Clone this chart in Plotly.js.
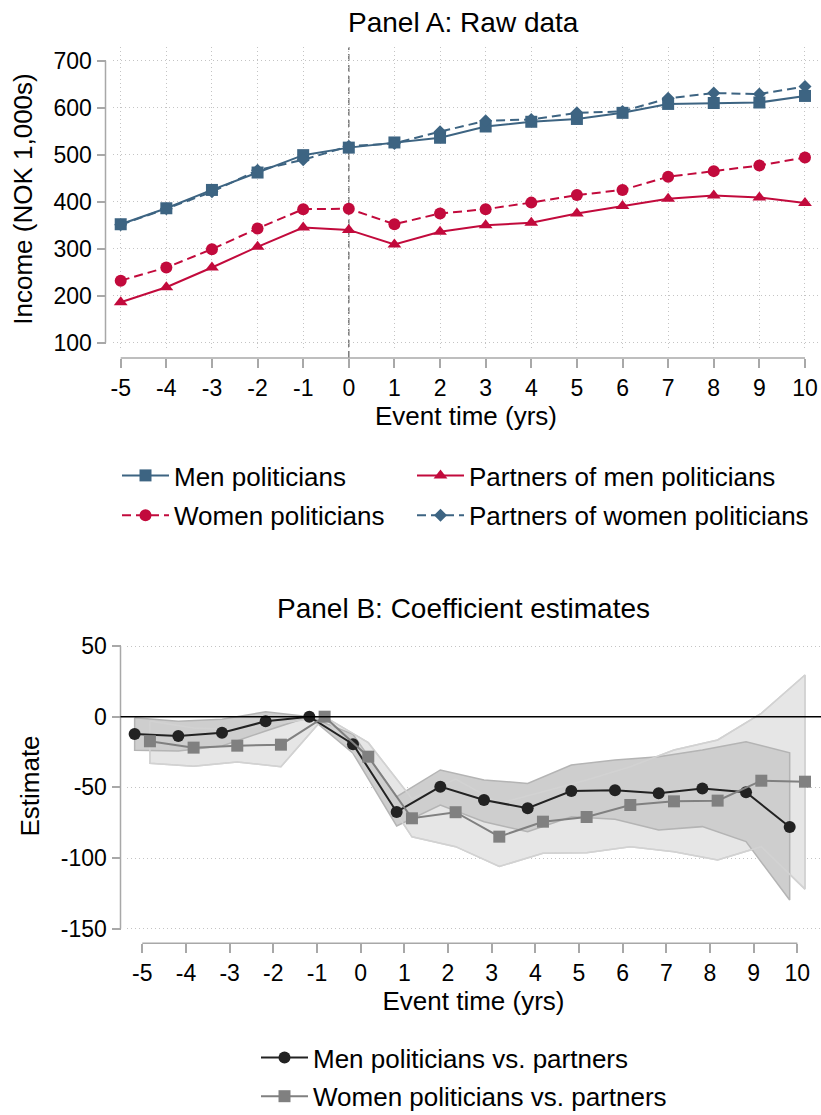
<!DOCTYPE html>
<html><head><meta charset="utf-8">
<script src="https://cdn.plot.ly/plotly-3.0.1.min.js"></script>
<style>html,body{margin:0;padding:0;background:#fff}#chart{width:821px;height:1115px}</style>
</head><body><div id="chart"></div>
<script>
// ---------- data ----------
const eventTime = [-5,-4,-3,-2,-1,0,1,2,3,4,5,6,7,8,9,10];

// Panel A: raw income (NOK 1,000s)
const menPoliticians          = [352,386,425,462,499,515,526,536,560,570,576,589,608,610,611,625];
const womenPoliticians        = [232,260,299,343,384,385,352,375,384,398,414,425,453,465,477,494];
const partnersOfMenPol        = [186,218,260,304,345,340,309,336,350,355,375,391,406,413,409,397];
const partnersOfWomenPol      = [351,385,421,467,489,518,524,549,572,575,589,592,620,631,629,645];
const yTicksA = [100,200,300,400,500,600,700];

// Panel B: coefficient estimates and confidence bands
const menEst   = [-12.2,-13.7,-11.3,-3.3,0,-19.5,-67.4,-49.5,-58.9,-64.8,-52.6,-52.1,-54.2,-50.9,-53.5,-78.0];
const menLo    = [-23.7,-24.2,-20.8,-10.1,0,-25.9,-77.3,-62.5,-74.3,-81.4,-70.8,-72.6,-80.2,-77.8,-88.4,-129.7];
const menHi    = [-0.7,-3.2,-1.8,3.5,0,-12.5,-56.6,-37.7,-44.8,-47.2,-34.2,-30.6,-28.3,-23.6,-17.7,-25.5];
const womenEst = [-17.4,-21.9,-20.5,-19.8,0,-28.3,-71.9,-67.6,-84.9,-74.3,-71.0,-62.5,-59.9,-59.4,-45.3,-46.0];
const womenLo  = [-33,-35,-32,-35.4,0,-38,-85,-92,-106,-96.7,-96.2,-92,-95.5,-101.4,-92,-122];
const womenHi  = [-3,-8,-9,-4.5,0,-18.4,-58,-44.1,-61.3,-53.1,-44.8,-35.4,-23.6,-16.5,2.4,29.5];
const yTicksB = [-150,-100,-50,0,50];

// ---------- helpers / styles ----------
const W = 821, H = 1115;
const px = p => p / W;
const py = p => 1 - p / H;
const FONT = 'Liberation Sans, Arial, Helvetica, sans-serif';
const blue = '#3d6482', red = '#c20a3c';
const axisColor = '#a8a8a8', gridColor = '#c4c4c4';
const OFF = 0.175;
const xMen = eventTime.map(t => t - OFF);
const xWomen = eventTime.map(t => t + OFF);
const band = (xs, lo, hi) => ({x: xs.concat(xs.slice().reverse()).concat([xs[0]]),
                               y: hi.concat(lo.slice().reverse()).concat([hi[0]])});
const bw = band(xWomen, womenLo, womenHi);
const bm = band(xMen, menLo, menHi);

const traces = [
  {x: eventTime, y: menPoliticians, name: 'Men politicians', type: 'scatter', mode: 'lines+markers',
   line: {color: blue, width: 2}, marker: {symbol: 'square', size: 12, color: blue},
   legend: 'legend', legendgroup: 'a1', xaxis: 'x', yaxis: 'y'},
  {x: eventTime, y: womenPoliticians, name: 'Women politicians', type: 'scatter', mode: 'lines+markers',
   line: {color: red, width: 2, dash: '9px,5px'}, marker: {symbol: 'circle', size: 12, color: red},
   legend: 'legend', legendgroup: 'a2', xaxis: 'x', yaxis: 'y'},
  {x: eventTime, y: partnersOfMenPol, name: 'Partners of men politicians', type: 'scatter', mode: 'lines+markers',
   line: {color: red, width: 2}, marker: {symbol: 'triangle-up', size: 12, color: red},
   legend: 'legend2', legendgroup: 'a3', xaxis: 'x', yaxis: 'y'},
  {x: eventTime, y: partnersOfWomenPol, name: 'Partners of women politicians', type: 'scatter', mode: 'lines+markers',
   line: {color: blue, width: 2, dash: '9px,5px'}, marker: {symbol: 'diamond', size: 10, color: blue},
   legend: 'legend2', legendgroup: 'a4', xaxis: 'x', yaxis: 'y'},

  {x: bw.x, y: bw.y, type: 'scatter', mode: 'lines', fill: 'toself', fillcolor: '#e6e6e6',
   line: {color: '#d2d2d2', width: 1.5}, showlegend: false, hoverinfo: 'skip', xaxis: 'x2', yaxis: 'y2'},
  {x: bm.x, y: bm.y, type: 'scatter', mode: 'lines', fill: 'toself', fillcolor: '#cecece',
   line: {color: '#b4b4b4', width: 1.5}, showlegend: false, hoverinfo: 'skip', xaxis: 'x2', yaxis: 'y2'},
  {x: bw.x, y: bw.y, type: 'scatter', mode: 'lines',
   line: {color: '#d2d2d2', width: 1.5}, showlegend: false, hoverinfo: 'skip', xaxis: 'x2', yaxis: 'y2'},
  {x: xMen, y: menEst, name: 'Men politicians vs. partners', type: 'scatter', mode: 'lines+markers',
   line: {color: '#222222', width: 2}, marker: {symbol: 'circle', size: 12, color: '#222222'},
   legend: 'legend3', legendgroup: 'b1', xaxis: 'x2', yaxis: 'y2'},
  {x: xWomen, y: womenEst, name: 'Women politicians vs. partners', type: 'scatter', mode: 'lines+markers',
   line: {color: '#808080', width: 2}, marker: {symbol: 'square', size: 12, color: '#808080'},
   legend: 'legend3', legendgroup: 'b2', xaxis: 'x2', yaxis: 'y2'}
];

const tickFont = {family: FONT, size: 23, color: '#000'};
const titleFont = {family: FONT, size: 26, color: '#000'};
const legFont = {family: FONT, size: 26, color: '#000'};
const xCommon = {tickvals: eventTime, ticktext: eventTime.map(String), ticks: 'outside', ticklen: 9,
  tickwidth: 1.5, tickcolor: axisColor, showline: false, zeroline: false, tickfont: tickFont,
  anchor: 'free', fixedrange: true};
const yCommon = {ticks: 'outside', ticklen: 9, tickwidth: 1.5, tickcolor: axisColor, showline: false,
  zeroline: false, tickfont: tickFont, anchor: 'free', showgrid: true, gridcolor: gridColor,
  griddash: '1px,3px', gridwidth: 1, fixedrange: true};
const legCommon = {xanchor: 'left', yanchor: 'top', orientation: 'v', font: legFont, itemwidth: 47,
  bgcolor: 'rgba(0,0,0,0)', itemclick: false, itemdoubleclick: false};

const layout = {
  width: W, height: H, margin: {l: 0, r: 0, t: 0, b: 0, autoexpand: false},
  paper_bgcolor: '#fff', plot_bgcolor: 'rgba(0,0,0,0)',
  font: {family: FONT, color: '#000'},
  xaxis: Object.assign({}, xCommon, {domain: [px(113), px(819)], range: [-5.169, 10.307], position: py(358),
    showgrid: true, gridcolor: gridColor, griddash: '1px,3px', gridwidth: 1,
    title: {text: 'Event time (yrs)', font: titleFont, standoff: 6}}),
  yaxis: Object.assign({}, yCommon, {domain: [py(351), py(47)], range: [82.3, 729.1], position: px(105.5),
    tickvals: yTicksA, ticktext: yTicksA.map(String),
    title: {text: 'Income (NOK 1,000s)', font: titleFont, standoff: 12}}),
  xaxis2: Object.assign({}, xCommon, {domain: [px(127), px(820)], range: [-5.35, 10.519], position: py(943.3),
    showgrid: false, title: {text: 'Event time (yrs)', font: titleFont, standoff: 6}}),
  yaxis2: Object.assign({}, yCommon, {domain: [py(936), py(636)], range: [-155.2, 57.1], position: px(120.5),
    tickvals: yTicksB, ticktext: yTicksB.map(String),
    title: {text: 'Estimate', font: titleFont, standoff: 12}}),
  legend: Object.assign({}, legCommon, {x: px(117), y: py(452), tracegroupgap: 3}),
  legend2: Object.assign({}, legCommon, {x: px(412), y: py(452), tracegroupgap: 3}),
  legend3: Object.assign({}, legCommon, {x: px(256), y: py(1034), tracegroupgap: 2}),
  annotations: [
    {text: 'Panel A: Raw data', xref: 'paper', yref: 'paper', x: px(463), y: py(23), xanchor: 'center',
     yanchor: 'middle', showarrow: false, font: {family: FONT, size: 28, color: '#000'}},
    {text: 'Panel B: Coefficient estimates', xref: 'paper', yref: 'paper', x: px(464), y: py(608), xanchor: 'center',
     yanchor: 'middle', showarrow: false, font: {family: FONT, size: 28, color: '#000'}}
  ],
  shapes: [
    {type: 'line', xref: 'paper', yref: 'y', x0: px(105.5), x1: px(105.5),
     y0: Math.min(...yTicksA), y1: Math.max(...yTicksA), line: {color: axisColor, width: 1.5}},
    {type: 'line', xref: 'x', yref: 'paper', x0: Math.min(...eventTime), x1: Math.max(...eventTime),
     y0: py(358), y1: py(358), line: {color: axisColor, width: 1.5}},
    {type: 'line', xref: 'x', yref: 'paper', x0: 0, x1: 0, y0: py(358), y1: py(47), layer: 'below',
     line: {color: '#7a7a7a', width: 1.5, dash: '7px,4px'}},
    {type: 'line', xref: 'paper', yref: 'y2', x0: px(120.5), x1: px(120.5),
     y0: Math.min(...yTicksB), y1: Math.max(...yTicksB), line: {color: axisColor, width: 1.5}},
    {type: 'line', xref: 'x2', yref: 'paper', x0: Math.min(...eventTime), x1: Math.max(...eventTime),
     y0: py(943.3), y1: py(943.3), line: {color: axisColor, width: 1.5}},
    {type: 'line', xref: 'paper', yref: 'y2', x0: px(120.5), x1: 1, y0: 0, y1: 0,
     line: {color: '#000', width: 1.5}}
  ]
};

Plotly.newPlot('chart', traces, layout, {displayModeBar: false, responsive: false});
</script>
</body></html>
